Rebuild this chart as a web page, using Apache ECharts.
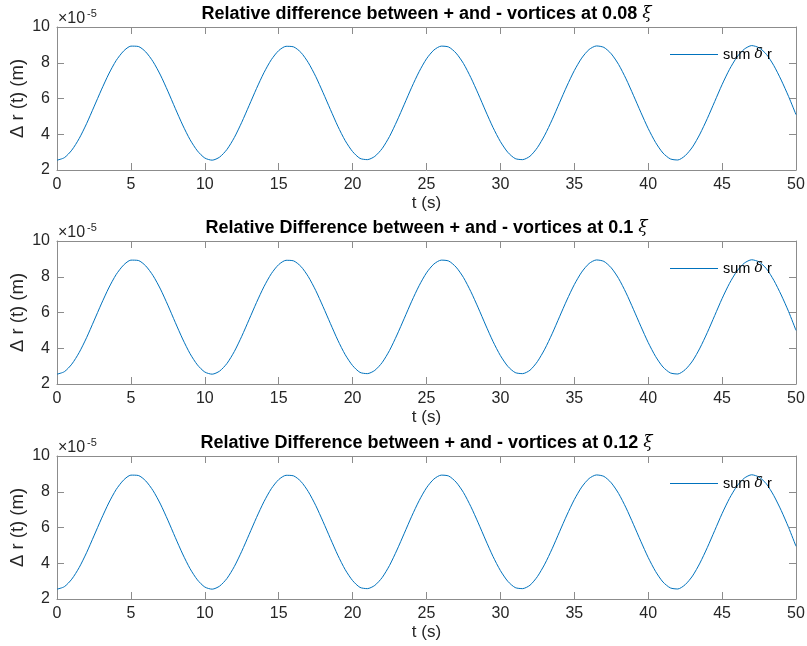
<!DOCTYPE html>
<html>
<head>
<meta charset="utf-8">
<script src="https://cdn.jsdelivr.net/npm/echarts@6/dist/echarts.min.js"></script>
<style>
  html, body { margin: 0; padding: 0; background: #ffffff; }
  #chart { width: 807px; height: 646px; }
</style>
</head>
<body>
<div id="chart"></div>
<script>
// ---- data (values in units of 1e-5 m) ----
const tSec = [0,0.5,1,1.5,2,2.5,3,3.5,4,4.5,5,5.5,6,6.5,7,7.5,8,8.5,9,9.5,
  10,10.5,11,11.5,12,12.5,13,13.5,14,14.5,15,15.5,16,16.5,17,17.5,18,18.5,19,19.5,
  20,20.5,21,21.5,22,22.5,23,23.5,24,24.5,25,25.5,26,26.5,27,27.5,28,28.5,29,29.5,
  30,30.5,31,31.5,32,32.5,33,33.5,34,34.5,35,35.5,36,36.5,37,37.5,38,38.5,39,39.5,
  40,40.5,41,41.5,42,42.5,43,43.5,44,44.5,45,45.5,46,46.5,47,47.5,48,48.5,49,49.5,50];

const sumDr008 = [2.55,2.69,3.11,3.76,4.59,5.53,6.48,7.37,8.12,8.65,8.93,8.91,8.61,8.06,7.31,6.41,5.45,4.52,3.70,3.07,
  2.67,2.55,2.72,3.15,3.82,4.67,5.61,6.56,7.44,8.17,8.68,8.92,8.89,8.58,8.01,7.24,6.33,5.38,4.45,3.64,
  3.03,2.65,2.58,2.76,3.20,3.88,4.74,5.68,6.63,7.50,8.22,8.71,8.93,8.88,8.54,7.96,7.17,6.26,5.30,4.38,
  3.59,2.99,2.64,2.58,2.77,3.25,3.95,4.81,5.76,6.70,7.56,8.26,8.74,8.94,8.86,8.50,7.90,7.10,6.18,5.23,
  4.32,3.54,2.95,2.62,2.56,2.80,3.29,4.01,4.88,5.83,6.78,7.63,8.31,8.76,8.96,8.84,8.47,7.84,7.03,6.11,5.10];

const sumDr010 = [2.55,2.69,3.11,3.76,4.59,5.53,6.48,7.37,8.12,8.65,8.93,8.91,8.61,8.06,7.31,6.41,5.45,4.52,3.70,3.07,
  2.67,2.55,2.72,3.15,3.82,4.67,5.61,6.56,7.44,8.17,8.68,8.92,8.89,8.58,8.01,7.24,6.33,5.38,4.45,3.64,
  3.03,2.65,2.58,2.76,3.20,3.88,4.74,5.68,6.63,7.50,8.22,8.71,8.93,8.88,8.54,7.96,7.17,6.26,5.30,4.38,
  3.59,2.99,2.64,2.58,2.77,3.25,3.95,4.81,5.76,6.70,7.56,8.26,8.74,8.94,8.86,8.50,7.90,7.10,6.18,5.23,
  4.32,3.54,2.95,2.62,2.56,2.80,3.29,4.01,4.88,5.83,6.78,7.63,8.31,8.76,8.95,8.83,8.45,7.80,6.98,6.05,5.00];

const sumDr012 = [2.55,2.69,3.11,3.76,4.59,5.53,6.48,7.37,8.12,8.65,8.93,8.91,8.61,8.06,7.31,6.41,5.45,4.52,3.70,3.07,
  2.67,2.55,2.72,3.15,3.82,4.67,5.61,6.56,7.44,8.17,8.68,8.92,8.89,8.58,8.01,7.24,6.33,5.38,4.45,3.64,
  3.03,2.65,2.58,2.76,3.20,3.88,4.74,5.68,6.63,7.50,8.22,8.71,8.93,8.88,8.54,7.96,7.17,6.26,5.30,4.38,
  3.59,2.99,2.64,2.58,2.77,3.25,3.95,4.81,5.76,6.70,7.56,8.26,8.74,8.94,8.86,8.50,7.90,7.10,6.18,5.23,
  4.32,3.54,2.95,2.62,2.56,2.80,3.29,4.01,4.88,5.83,6.78,7.63,8.31,8.76,8.95,8.82,8.44,7.78,6.95,6.00,4.95];

const xTicks = [0,5,10,15,20,25,30,35,40,45,50];
const yTicks = [2,4,6,8,10];
const titleTexts = [
  'Relative difference between + and - vortices at 0.08 ',
  'Relative Difference between + and - vortices at 0.1 ',
  'Relative Difference between + and - vortices at 0.12 '
];
const seriesNames = ['sum δ r (0.08)', 'sum δ r (0.1)', 'sum δ r (0.12)'];
const allSeries = [sumDr008, sumDr010, sumDr012];

// ---- layout / style ----
const FONT = '"Liberation Sans", Arial, Helvetica, sans-serif';
const SERIF = '"DejaVu Serif", "Liberation Serif", serif';
const AX = '#262626';
const BOX = '#8c8c8c';
const LINE = '#0072BD';
const gridTops = [27, 241, 456];
const gridH = 143;
const gridLeft = 57, gridRight = 11;
const plotCenterX = gridLeft + (807 - gridLeft - gridRight) / 2;

const chart = echarts.init(document.getElementById('chart'), null, { renderer: 'canvas' });

const grids = [], xAxes = [], yAxes = [], series = [], titles = [], legends = [], graphics = [];

gridTops.forEach((top, i) => {
  grids.push({ left: gridLeft, right: gridRight, top: top, height: gridH, containLabel: false, outerBoundsMode: 'none' });
  const xMin = xTicks[0], xMax = xTicks[xTicks.length - 1], xInt = xTicks[1] - xTicks[0];
  const yMin = yTicks[0], yMax = yTicks[yTicks.length - 1], yInt = yTicks[1] - yTicks[0];
  xAxes.push({
    type: 'value', gridIndex: i, position: 'bottom', min: xMin, max: xMax, interval: xInt,
    name: 't (s)', nameLocation: 'middle', nameGap: 25, nameMoveOverlap: false,
    nameTextStyle: { fontFamily: FONT, fontSize: 17, color: AX },
    axisLine: { show: true, onZero: false, lineStyle: { color: BOX, width: 1 } },
    axisTick: { show: true, inside: true, length: 7, lineStyle: { color: BOX } },
    axisLabel: { show: true, margin: 7, fontFamily: FONT, fontSize: 16, color: AX },
    splitLine: { show: false }
  });
  xAxes.push({
    type: 'value', gridIndex: i, position: 'top', min: xMin, max: xMax, interval: xInt,
    axisLine: { show: true, onZero: false, lineStyle: { color: BOX, width: 1 } },
    axisTick: { show: true, inside: true, length: 7, lineStyle: { color: BOX } },
    axisLabel: { show: false }, splitLine: { show: false }
  });
  yAxes.push({
    type: 'value', gridIndex: i, position: 'left', min: yMin, max: yMax, interval: yInt,
    name: 'Δ r (t) (m)', nameLocation: 'middle', nameGap: 30, nameMoveOverlap: false,
    nameTextStyle: { fontFamily: FONT, fontSize: 18.5, color: AX },
    axisLine: { show: true, onZero: false, lineStyle: { color: BOX, width: 1 } },
    axisTick: { show: true, inside: true, length: 7, lineStyle: { color: BOX } },
    axisLabel: { show: true, margin: 7, fontFamily: FONT, fontSize: 16, color: AX },
    splitLine: { show: false }
  });
  yAxes.push({
    type: 'value', gridIndex: i, position: 'right', min: yMin, max: yMax, interval: yInt,
    axisLine: { show: true, onZero: false, lineStyle: { color: BOX, width: 1 } },
    axisTick: { show: true, inside: true, length: 7, lineStyle: { color: BOX } },
    axisLabel: { show: false }, splitLine: { show: false }
  });

  series.push({
    name: seriesNames[i], type: 'line',
    xAxisIndex: i * 2, yAxisIndex: i * 2,
    data: tSec.map((t, k) => [t, allSeries[i][k]]),
    symbol: 'none', smooth: 0.25,
    lineStyle: { color: LINE, width: 1 }, itemStyle: { color: LINE },
    animation: false
  });

  titles.push({
    text: '{b|' + titleTexts[i] + '}{x|ξ}',
    left: plotCenterX, textAlign: 'center', top: top - 22,
    padding: 0,
    textStyle: {
      rich: {
        b: { fontFamily: FONT, fontSize: 18, fontWeight: 'bold', color: '#000' },
        x: { fontFamily: SERIF, fontSize: 17, fontStyle: 'italic', fontWeight: 'normal', color: '#000' }
      }
    }
  });

  legends.push({
    show: true,
    data: [{ name: seriesNames[i], icon: 'rect' }],
    left: 670, top: top + 20, padding: 0,
    itemWidth: 48, itemHeight: 1, itemGap: 0,
    itemStyle: { color: LINE, borderWidth: 0 },
    formatter: () => '{n|sum }{d|δ}{n| r}',
    selectedMode: false,
    textStyle: {
      rich: {
        n: { fontFamily: FONT, fontSize: 14.5, color: '#000' },
        d: { fontFamily: SERIF, fontSize: 14, fontStyle: 'italic', color: '#000' }
      }
    }
  });

  graphics.push({
    type: 'text', left: 58, top: top - 16,
    style: { text: '×10', fontFamily: FONT, fontSize: 16, fill: AX }
  });
  graphics.push({
    type: 'text', left: 87, top: top - 19,
    style: { text: '-5', fontFamily: FONT, fontSize: 11, fill: AX }
  });
});

chart.setOption({
  backgroundColor: '#ffffff',
  animation: false,
  title: titles,
  legend: legends,
  grid: grids,
  xAxis: xAxes,
  yAxis: yAxes,
  series: series,
  graphic: graphics
});
</script>
</body>
</html>
